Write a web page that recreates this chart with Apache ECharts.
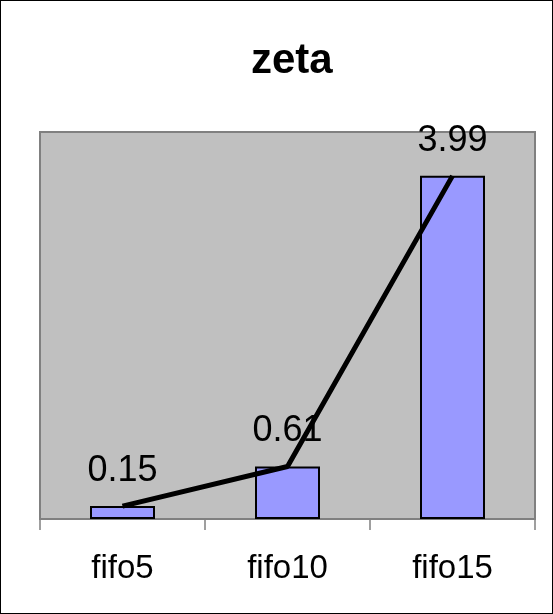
<!DOCTYPE html>
<html>
<head>
<meta charset="utf-8">
<script src="https://cdn.jsdelivr.net/npm/echarts@6/dist/echarts.min.js"></script>
<style>
  html, body { margin: 0; padding: 0; background: #fff; }
  #chart { width: 553px; height: 614px; box-sizing: border-box; border: 1px solid #000; }
</style>
</head>
<body>
<div id="chart"></div>
<script>
// Data for the zeta chart
const categories = ['fifo5', 'fifo10', 'fifo15'];
const values = [0.15, 0.61, 3.99];
const titleText = 'zeta';

const chart = echarts.init(document.getElementById('chart'), null, { renderer: 'canvas' });
const font = 'Liberation Sans, Arial, sans-serif';

chart.setOption({
  animation: false,
  backgroundColor: '#ffffff',
  title: {
    text: titleText,
    left: 245,
    top: 34,
    textStyle: { fontFamily: font, fontSize: 42, fontWeight: 'bold', color: '#000' }
  },
  grid: {
    left: 39,
    right: 17,
    top: 131,
    bottom: 94,
    show: true,
    backgroundColor: '#C0C0C0',
    borderColor: '#808080',
    borderWidth: 2
  },
  xAxis: {
    type: 'category',
    data: categories,
    boundaryGap: true,
    axisLine: { lineStyle: { color: '#808080', width: 2 } },
    axisTick: { show: true, length: 11, lineStyle: { color: '#808080', width: 1.5 } },
    axisLabel: { fontFamily: font, fontSize: 33, color: '#000', margin: 33 }
  },
  yAxis: {
    type: 'value',
    min: 0,
    max: 4.5,
    show: false,
    splitLine: { show: false }
  },
  series: [
    {
      type: 'bar',
      data: values,
      barWidth: 65,
      z: 2,
      itemStyle: { color: '#9999FF', borderColor: '#000', borderWidth: 2 },
      label: {
        show: true,
        position: 'top',
        distance: 17,
        fontFamily: font,
        fontSize: 36,
        color: '#000',
        formatter: p => p.value.toFixed(2)
      }
    },
    {
      type: 'line',
      data: values,
      z: 5,
      symbol: 'none',
      lineStyle: { color: '#000', width: 5 }
    }
  ]
});
</script>
</body>
</html>
